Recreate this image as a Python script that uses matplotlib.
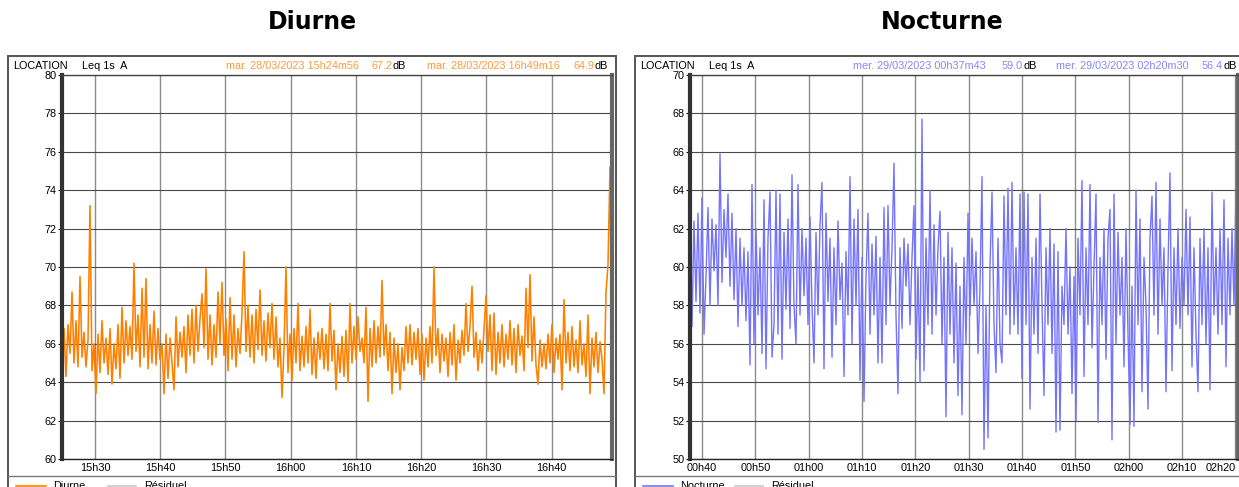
import numpy as np
import matplotlib.pyplot as plt
from matplotlib.patches import Rectangle
from matplotlib.lines import Line2D

# Leq 1s (dB A) lus sur les courbes, pas de temps régulier
diurne_db = [
    65.5, 66.8, 64.3, 67.0, 65.5, 68.7, 65.0, 67.2, 64.8, 69.5,
    65.3, 66.6, 64.8, 66.2, 73.2, 64.6, 66.0, 63.4, 66.5, 64.5,
    67.2, 65.0, 66.3, 64.4, 66.8, 63.9, 66.0, 64.7, 67.0, 64.2,
    67.9, 65.0, 67.2, 65.4, 66.9, 65.2, 70.2, 65.6, 67.5, 64.8,
    68.9, 65.3, 69.4, 64.7, 67.0, 65.0, 67.7, 64.9, 66.8, 65.2,
    66.0, 63.4, 66.5, 64.2, 66.3, 65.0, 63.6, 67.4, 64.8, 66.6,
    65.3, 66.9, 64.5, 67.5, 65.4, 67.8, 65.0, 68.0, 65.6, 67.3,
    68.6, 65.8, 69.9, 65.2, 67.5, 64.9, 67.0, 65.3, 68.7, 66.0,
    69.2, 65.4, 67.3, 64.6, 68.4, 65.2, 67.5, 64.8, 66.8, 65.5,
    67.6, 70.8,
    65.6, 68.0, 65.3, 67.5, 65.0, 67.8, 65.7, 68.8, 65.4, 67.2,
    65.1, 67.6, 65.8, 68.1, 65.2, 67.4, 64.8, 66.3, 63.2, 65.8,
    70.0, 64.5, 66.5, 64.1, 66.8, 65.0, 68.1, 64.6, 66.4, 64.8,
    66.9, 65.0, 67.8, 64.4, 66.3, 64.2, 66.6, 65.2, 66.8, 64.7,
    66.5, 64.6, 68.1, 65.1, 66.7, 63.6, 66.0, 64.5, 66.4, 64.3,
    66.7, 64.0, 68.1, 65.0, 66.9, 65.2, 67.4, 65.6, 66.3, 65.0,
    67.9, 63.0, 66.8, 64.8, 67.2, 65.0, 66.9, 65.3, 69.3, 65.4,
    67.0, 64.6, 66.6, 63.4, 66.3, 64.5, 66.0, 63.6, 65.8, 64.6,
    66.9, 65.0, 67.0, 64.9, 66.6, 65.2, 66.8, 64.4, 66.5, 64.1,
    66.3, 64.8, 66.9, 65.0, 70.0, 65.4, 66.8, 64.5, 66.5, 65.1,
    66.3, 64.3, 66.6, 64.9, 67.0, 64.1, 66.2, 65.0, 66.7, 65.4,
    68.1, 65.6, 66.9, 69.0, 65.3, 66.6, 64.6, 66.2, 65.0, 66.8,
    68.5, 65.6, 67.5, 64.6, 67.6, 64.4, 66.6, 65.0, 67.0, 64.8,
    66.5, 65.2, 67.2, 64.9, 66.8, 64.5, 67.0, 65.4, 66.4, 64.6,
    68.9, 65.8, 69.6, 65.1, 67.4, 64.9, 63.9, 66.2, 64.8, 66.0,
    64.7, 66.5, 65.0, 67.0, 64.5, 66.3, 65.2, 66.5, 63.6, 68.3,
    65.0, 66.6, 64.6, 66.9, 64.8, 66.2, 64.5, 67.2, 64.9, 66.0,
    64.3, 67.5, 63.4, 66.3, 64.8, 66.6, 64.5, 66.1, 65.2, 63.4,
    68.7, 70.1, 75.2, 64.9,
]

nocturne_db = [
    59.0, 56.9, 62.4, 58.2, 62.8, 57.6, 63.6, 56.5, 59.5, 63.1,
    58.0, 62.5, 59.8, 62.2, 58.0, 65.9, 59.2, 63.0, 60.5, 63.8,
    59.0, 62.8, 58.3, 62.0, 56.9, 61.5, 58.0, 61.0, 57.2, 60.8,
    54.9, 64.3, 56.0, 62.0, 57.5, 61.0, 55.5, 63.5, 54.7, 61.5,
    63.9, 55.3, 57.0, 64.0, 56.5, 63.8, 55.2, 61.8, 57.8, 62.5,
    56.8, 64.8, 58.0, 56.0, 64.3, 57.5, 62.0, 58.5, 61.5, 57.0,
    62.6, 58.0, 55.0, 61.8, 57.5, 62.2, 64.4, 54.7, 62.8, 58.2,
    61.5, 55.3, 61.0, 57.0, 62.4, 58.3, 60.2, 54.3, 60.8, 57.5,
    64.7, 56.0, 62.5, 58.0, 63.0, 54.1, 60.5, 53.0, 59.5, 62.8,
    56.5, 61.2,
    57.5, 61.6, 55.0, 60.5, 55.0, 63.1, 57.0, 63.2, 58.0, 61.0,
    65.4, 57.5, 53.4, 61.0, 56.8, 61.5, 59.0, 61.2, 57.0, 60.5,
    63.2, 55.2, 60.0, 54.0, 67.7, 54.6, 61.5, 57.0, 64.0, 56.5,
    62.2, 57.5, 61.0, 62.9, 56.0, 60.5, 52.2, 61.8, 56.5, 61.0,
    55.0, 60.2, 53.3, 59.0, 52.3, 60.5, 56.0, 62.8, 57.5, 61.5,
    58.0, 60.8, 55.5, 59.0, 64.7, 50.5, 58.0, 51.1, 60.0, 63.9,
    57.0, 54.5, 61.5, 56.0, 55.0, 63.7, 57.5, 64.1, 56.5, 64.4,
    57.0, 61.0, 56.5, 63.8, 54.2, 63.9, 57.0, 63.8, 52.6, 60.5,
    56.5, 61.5, 55.5, 63.8, 58.0, 53.3, 61.0, 57.0, 62.0, 55.5,
    61.2, 51.4, 60.8, 51.5, 59.0, 57.0, 62.0, 56.5, 60.0, 53.4, 59.5,
    52.0, 61.5, 57.5, 64.5, 54.3, 61.0, 57.0, 64.3, 55.8, 60.0,
    63.8, 51.9, 60.5, 57.0, 62.0, 55.2, 61.5, 63.0, 51.0, 63.8,
    56.0, 61.8, 57.5, 60.5, 54.8, 62.0, 56.5, 51.8, 59.0, 51.7,
    64.0, 57.0, 62.5, 53.5, 60.5, 58.0, 52.6, 61.5, 63.7, 57.5,
    64.4, 56.5, 62.5, 58.0, 61.0, 53.5, 60.0, 64.9, 54.6, 61.0,
    57.0, 62.0, 56.8, 60.5, 58.0, 63.0, 57.5, 62.6, 54.8, 61.0,
    56.5, 53.5, 61.5, 57.0, 62.0, 56.0, 61.0, 53.6, 63.9, 57.5,
    61.0, 56.5, 62.0, 57.0, 63.5, 54.8, 61.5, 57.5, 62.0, 58.0,
    64.1, 56.4,
]

diurne_ticks = ["15h30", "15h40", "15h50", "16h00", "16h10", "16h20", "16h30", "16h40"]
nocturne_ticks = ["00h40", "00h50", "01h00", "01h10", "01h20", "01h30",
                  "01h40", "01h50", "02h00", "02h10", "02h20"]

W, H = 1239, 487
fig = plt.figure(figsize=(W / 100, H / 100), dpi=100)
plt.rcParams['font.family'] = ['Liberation Sans', 'DejaVu Sans']


def fx(px):
    return px / W


def fy(py):
    return 1 - py / H


def panel(box_l, box_r, ax_l, ax_r, title, values, duration, first_tick, ticks,
          ymin, color, lw, txt_color, label, cursor1, val1, cursor2, val2, xs):
    # cadre général
    fig.patches.append(Rectangle((fx(box_l), fy(520)), fx(box_r - box_l), fy(56) - fy(520),
                                 transform=fig.transFigure, fill=False,
                                 edgecolor='#555555', lw=1.4, clip_on=False))
    fig.add_artist(Line2D([fx(box_l), fx(box_r)], [fy(476), fy(476)],
                          transform=fig.transFigure, color='#777777', lw=1))
    fig.text(fx((box_l + box_r) / 2), fy(22), title, ha='center', va='center',
             fontsize=17, fontweight='bold', family='DejaVu Sans')

    # bandeau
    fs = 7.8
    fig.text(fx(box_l + 5), fy(66), "LOCATION", fontsize=fs, va='center')
    fig.text(fx(box_l + 74), fy(66), "Leq 1s  A", fontsize=fs, va='center')
    fig.text(fx(xs[0]), fy(66), cursor1, fontsize=fs, va='center', color=txt_color)
    fig.text(fx(xs[1]), fy(66), val1, fontsize=fs, va='center', color=txt_color)
    fig.text(fx(xs[1] + 21.5), fy(66), "dB", fontsize=fs, va='center')
    fig.text(fx(xs[2]), fy(66), cursor2, fontsize=fs, va='center', color=txt_color)
    fig.text(fx(xs[3]), fy(66), val2, fontsize=fs, va='center', color=txt_color)
    fig.text(fx(xs[3] + 21.5), fy(66), "dB", fontsize=fs, va='center')

    # légende (coupée en bas comme sur l'original)
    fig.add_artist(Line2D([fx(box_l + 8), fx(box_l + 38)], [fy(485.5), fy(485.5)],
                          transform=fig.transFigure, color=color, lw=1.2))
    fig.text(fx(box_l + 45), fy(481), label, fontsize=fs, va='top')
    fig.add_artist(Line2D([fx(box_l + 100), fx(box_l + 128)], [fy(485.5), fy(485.5)],
                          transform=fig.transFigure, color='#c8c8c8', lw=1.2))
    fig.text(fx(box_l + 136), fy(481), "Résiduel", fontsize=fs, va='top')

    ax = fig.add_axes([fx(ax_l), fy(459), fx(ax_r - ax_l), fy(75) - fy(459)])
    t = np.linspace(0, duration, len(values))
    ax.plot(t, values, color=color, lw=lw)
    ax.set_xlim(0, duration)
    ax.set_ylim(ymin, ymin + 20)
    ax.set_yticks(np.arange(ymin, ymin + 21, 2))
    tick_pos = first_tick + 10 * np.arange(len(ticks))
    ax.set_xticks(tick_pos)
    ax.set_xticklabels(ticks)
    ax.tick_params(axis='x', length=0, labelsize=fs, pad=3)
    ax.tick_params(axis='y', length=3, width=0.8, labelsize=fs, pad=1)
    ax.grid(axis='x', color='#8c8c8c', lw=1.0)
    ax.grid(axis='y', color='#4a4a4a', lw=0.8)
    ax.set_axisbelow(True)
    ax.spines['left'].set_linewidth(3)
    ax.spines['left'].set_color('#333333')
    ax.spines['right'].set_linewidth(3)
    ax.spines['right'].set_color('#666666')
    ax.spines['top'].set_linewidth(1)
    ax.spines['top'].set_color('#444444')
    ax.spines['bottom'].set_linewidth(1)
    ax.spines['bottom'].set_color('#222222')
    return ax


panel(8, 616, 62, 612, "Diurne", diurne_db, 84 + 20 / 60, 5 + 4 / 60, diurne_ticks,
      60, '#ff8000', 1.15, '#ff9a3c', "Diurne",
      "mar. 28/03/2023 15h24m56", "67.2", "mar. 28/03/2023 16h49m16", "64.9",
      [226, 371, 427, 573])

ax_n = panel(635, 1250, 690, 1238, "Nocturne", nocturne_db, 102 + 47 / 60, 2 + 17 / 60,
             nocturne_ticks, 50, '#7373ff', 1.0, '#8585ff', "Nocturne",
             "mer. 29/03/2023 00h37m43", "59.0", "mer. 29/03/2023 02h20m30", "56.4",
             [853, 1002, 1056, 1202])
# dernière étiquette calée à droite pour rester dans le cadre
ax_n.get_xticklabels()[-1].set_ha('right')

fig.savefig("out.png", dpi=100)
